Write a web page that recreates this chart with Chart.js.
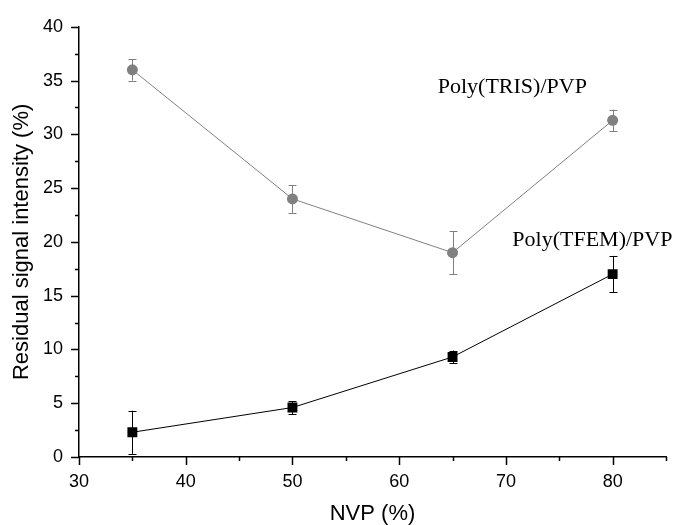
<!DOCTYPE html>
<html>
<head>
<meta charset="utf-8">
<script src="https://cdn.jsdelivr.net/npm/chart.js@4/dist/chart.umd.min.js"></script>
<style>
html, body { margin: 0; padding: 0; background: #fff; }
</style>
</head>
<body>
<canvas id="chart" width="680" height="525"></canvas>
<script>
// NVP content (%) on x
const nvp = [35, 50, 65, 80];

const trisValues = [36, 24, 19, 31.3];
const trisErrors = [1, 1.3, 2, 1];

const tfemValues = [2.3, 4.6, 9.3, 17];
const tfemErrors = [2, 0.6, 0.6, 1.7];

const xTicks = [30, 40, 50, 60, 70, 80];
const yTicks = [0, 5, 10, 15, 20, 25, 30, 35, 40];

const seriesLabels = [
  { text: "Poly(TRIS)/PVP", x: 70.6, y: 34.4 },
  { text: "Poly(TFEM)/PVP", x: 78.1, y: 20.2 }
];

function toPoints(values) {
  return nvp.map((x, i) => ({ x: x, y: values[i] }));
}

// error bars, tick marks and text labels
const extras = {
  id: "extras",
  beforeDatasetsDraw(chart) {
    const ctx = chart.ctx;
    const xs = chart.scales.x;
    const ys = chart.scales.y;
    const sets = [
      { values: trisValues, errors: trisErrors, color: "#808080" },
      { values: tfemValues, errors: tfemErrors, color: "#000000" }
    ];
    ctx.save();
    ctx.lineWidth = 1;
    sets.forEach(s => {
      ctx.strokeStyle = s.color;
      nvp.forEach((v, i) => {
        const px = Math.round(xs.getPixelForValue(v)) + 0.5;
        const top = ys.getPixelForValue(s.values[i] + s.errors[i]);
        const bot = ys.getPixelForValue(s.values[i] - s.errors[i]);
        ctx.beginPath();
        ctx.moveTo(px, top);
        ctx.lineTo(px, bot);
        ctx.moveTo(px - 4, Math.round(top) + 0.5);
        ctx.lineTo(px + 4, Math.round(top) + 0.5);
        ctx.moveTo(px - 4, Math.round(bot) + 0.5);
        ctx.lineTo(px + 4, Math.round(bot) + 0.5);
        ctx.stroke();
      });
    });
    ctx.restore();
  },
  afterDraw(chart) {
    const ctx = chart.ctx;
    const xs = chart.scales.x;
    const ys = chart.scales.y;
    const area = chart.chartArea;
    ctx.save();
    ctx.strokeStyle = "#000";
    ctx.lineWidth = 1.5;
    ctx.beginPath();
    for (let v = 30; v <= 85; v += 5) {
      const px = Math.round(xs.getPixelForValue(v)) + 0.5;
      const len = v % 10 === 0 ? 8 : 4;
      ctx.moveTo(px, area.bottom);
      ctx.lineTo(px, area.bottom + len);
    }
    for (let v = 0; v <= 40; v += 2.5) {
      const py = Math.round(ys.getPixelForValue(v)) + 0.5;
      const len = v % 5 === 0 ? 8 : 4;
      ctx.moveTo(area.left, py);
      ctx.lineTo(area.left - len, py);
    }
    ctx.stroke();

    ctx.fillStyle = "#000";
    ctx.font = '22px "Liberation Serif"';
    ctx.textAlign = "center";
    ctx.textBaseline = "middle";
    seriesLabels.forEach(l => {
      ctx.fillText(l.text, xs.getPixelForValue(l.x), ys.getPixelForValue(l.y));
    });
    ctx.restore();
  }
};

const ctx = document.getElementById("chart").getContext("2d");
new Chart(ctx, {
  type: "scatter",
  data: {
    datasets: [
      {
        label: "Poly(TRIS)/PVP",
        data: toPoints(trisValues),
        showLine: true,
        borderColor: "#808080",
        backgroundColor: "#808080",
        borderWidth: 1,
        pointStyle: "circle",
        pointRadius: 5.5,
        pointBorderWidth: 0
      },
      {
        label: "Poly(TFEM)/PVP",
        data: toPoints(tfemValues),
        showLine: true,
        borderColor: "#000000",
        backgroundColor: "#000000",
        borderWidth: 1,
        pointStyle: "rect",
        pointRadius: 7,
        pointBorderWidth: 0
      }
    ]
  },
  options: {
    responsive: false,
    animation: false,
    layout: { padding: { top: 24, right: 11, left: 0, bottom: 0 } },
    plugins: {
      legend: { display: false },
      tooltip: { enabled: false }
    },
    scales: {
      x: {
        type: "linear",
        min: 30,
        max: 85,
        afterFit: s => { s.height = 68; },
        grid: { display: true, drawOnChartArea: false, drawTicks: false },
        border: { display: true, color: "#000", width: 1.5 },
        ticks: {
          stepSize: 5,
          padding: 14,
          color: "#000",
          font: { family: "Liberation Sans", size: 18 },
          maxRotation: 0,
          callback: v => xTicks.includes(v) ? String(v) : ""
        },
        title: {
          display: true,
          text: "NVP (%)",
          color: "#000",
          font: { family: "Liberation Sans", size: 22, lineHeight: 1 },
          padding: { top: 0, bottom: 0 }
        }
      },
      y: {
        min: 0,
        max: 40,
        afterFit: s => { s.width = 79; },
        grid: { display: true, drawOnChartArea: false, drawTicks: false },
        border: { display: true, color: "#000", width: 1.5 },
        ticks: {
          stepSize: 2.5,
          padding: 16,
          color: "#000",
          font: { family: "Liberation Sans", size: 18 },
          callback: v => yTicks.includes(v) ? String(v) : ""
        },
        title: {
          display: true,
          text: "Residual signal intensity (%)",
          color: "#000",
          font: { family: "Liberation Sans", size: 22, lineHeight: 1 },
          padding: { top: 11, bottom: 0 }
        }
      }
    }
  },
  plugins: [extras]
});
</script>
</body>
</html>
